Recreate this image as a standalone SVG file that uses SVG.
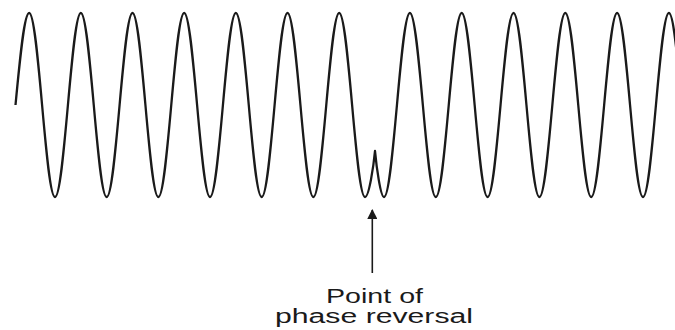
<svg xmlns="http://www.w3.org/2000/svg" width="675" height="330" viewBox="0 0 675 330">
<style>
.wave{fill:none;stroke:#1a1a1a;stroke-width:2.3;stroke-linejoin:round;stroke-linecap:butt}
.conn{stroke:#1a1a1a;stroke-width:1.6;fill:none}
.lbl{font-family:"Liberation Sans",Arial,sans-serif;font-size:20px;fill:#1a1a1a}
</style>
<defs>
<marker id="ah" viewBox="0 0 10 10" refX="9" refY="5" markerWidth="6.5" markerHeight="6.5" orient="auto" markerUnits="strokeWidth">
<path d="M0,0 L10,5 L0,10 z" fill="#1a1a1a"/>
</marker>
</defs>
<rect width="675" height="330" fill="#ffffff"/>
<g id="waveform">
<path class="wave" d="M15.5,105 C20.07,56.7 24.21,13 29.17,13 C38.56,13 45.61,197 55,197 S71.45,13 80.84,13 S97.28,197 106.67,197 S123.12,13 132.51,13 S148.95,197 158.34,197 S174.79,13 184.18,13 S200.62,197 210.01,197 S226.46,13 235.85,13 S252.29,197 261.68,197 S278.13,13 287.52,13 S303.96,197 313.35,197 S329.8,13 339.19,13 S355.63,197 365.02,197 C369,197 373.6,166 375,151 C376.4,166 380.5,197 384,197 C393.41,197 400.49,13 409.9,13 S426.39,197 435.8,197 S452.29,13 461.7,13 S478.19,197 487.6,197 S504.09,13 513.5,13 S529.99,197 539.4,197 S555.89,13 565.3,13 S581.79,197 591.2,197 S607.69,13 617.1,13 S633.59,197 643,197 S659.49,13 668.9,13 S685.39,197 694.8,197"/>
</g>
<g id="connectors">
<line class="conn" x1="372.3" y1="273" x2="372.3" y2="210" marker-end="url(#ah)"/>
</g>
<g id="label">
<text class="lbl" x="374.5" y="302.5" text-anchor="middle" textLength="97" lengthAdjust="spacingAndGlyphs">Point of</text>
<text class="lbl" x="374" y="323" text-anchor="middle" textLength="198" lengthAdjust="spacingAndGlyphs">phase reversal</text>
</g>
</svg>
